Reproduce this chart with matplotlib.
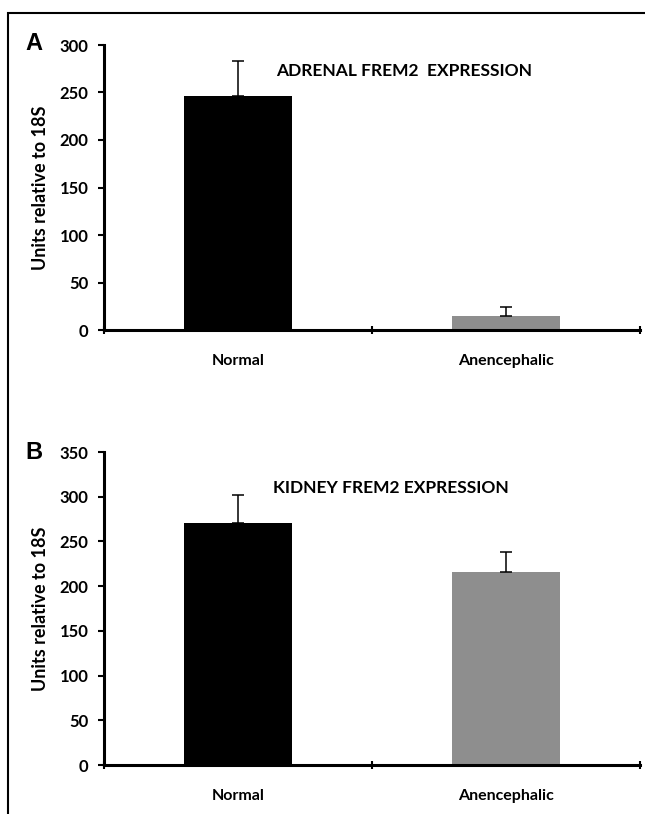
import matplotlib.pyplot as plt
import numpy as np
from matplotlib.patches import Rectangle

# data
categories = ["Normal", "Anencephalic"]
adrenal_vals = [246, 15]
adrenal_err = [37, 9]
kidney_vals = [271, 216]
kidney_err = [31, 22]
bar_colors = ["#000000", "#8e8e8e"]

plt.rcParams['font.family'] = ['Lato', 'DejaVu Sans']

W, H = 645, 814
fig = plt.figure(figsize=(W / 100, H / 100), dpi=100)

# outer frame (right/bottom edges run off the picture)
fig.patches.append(Rectangle((8 / W, -0.05), 1.2, 1 - 13 / H + 0.05,
                             transform=fig.transFigure, fill=False,
                             edgecolor="black", linewidth=1.5))


def panel(rect, vals, errs, ymax, step, title, title_xy, letter, letter_y):
    ax = fig.add_axes(rect)
    x = np.arange(len(categories))
    ax.bar(x, vals, width=0.4, color=bar_colors)
    lower = np.zeros(len(vals))
    ax.errorbar(x, vals, yerr=[lower, errs], fmt="none", ecolor="black",
                elinewidth=1.1, capsize=4, capthick=1.1)
    ax.set_xlim(-0.5, 1.5)
    ax.set_ylim(0, ymax)
    ax.set_yticks(np.arange(0, ymax + 1, step))
    ax.set_xticks(x)
    ax.set_xticklabels(categories, fontsize=11.5, fontweight="bold")
    ax.tick_params(axis="x", length=0, pad=17)
    ax.set_xticks([-0.5, 0.5, 1.5], minor=True)
    ax.tick_params(axis="x", which="minor", direction="inout", length=6, width=1.5)
    ax.tick_params(axis="y", direction="out", length=4, width=1.5, labelsize=12, pad=7)
    for lab in ax.get_yticklabels():
        lab.set_fontweight("bold")
    for s in ("top", "right"):
        ax.spines[s].set_visible(False)
    for s in ("left", "bottom"):
        ax.spines[s].set_linewidth(2.2)
    ax.set_ylabel("Units relative to 18S", fontsize=13, fontweight="bold", labelpad=8)
    ax.text(title_xy[0], title_xy[1], title, transform=ax.transAxes,
            ha="center", va="center", fontsize=12.5, fontweight="bold")
    fig.text(25 / W, 1 - letter_y / H, letter, ha="left", va="center",
             fontsize=17, fontweight="bold", family=["Liberation Sans", "DejaVu Sans"])
    return ax


panel([104 / W, 1 - 330 / H, 536 / W, 285 / H], adrenal_vals, adrenal_err,
      300, 50, "ADRENAL FREM2  EXPRESSION", (0.56, 0.91), "A", 44)
panel([104 / W, 1 - 765 / H, 536 / W, 313 / H], kidney_vals, kidney_err,
      350, 50, "KIDNEY FREM2 EXPRESSION", (0.535, 0.885), "B", 452)

fig.savefig("out.png", dpi=100)
